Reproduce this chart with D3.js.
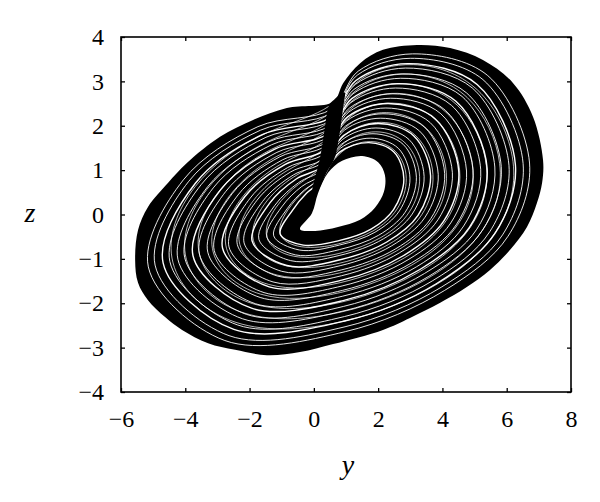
<!DOCTYPE html>
<html>
<head>
<meta charset="utf-8">
<script src="https://cdn.jsdelivr.net/npm/d3@7"></script>
<style>
body { margin: 0; background: #fff; }
text { font-family: "Liberation Serif", "DejaVu Serif", serif; }
</style>
</head>
<body>
<script>
// tick values
var yTicks = [-6, -4, -2, 0, 2, 4, 6, 8];
var zTicks = [-4, -3, -2, -1, 0, 1, 2, 3, 4];

// outline of the attractor, [y, z]
var outerEdge = [
  [0.60, 2.54], [0.91, 2.96], [1.44, 3.41], [2.15, 3.71], [3.21, 3.82], [4.24, 3.75],
  [5.26, 3.48], [6.20, 2.96], [6.82, 2.20], [7.13, 1.23], [7.10, 0.71], [6.94, 0.26],
  [6.63, -0.28], [6.10, -0.80], [5.48, -1.25], [4.77, -1.63], [3.93, -1.99], [2.99, -2.33],
  [2.15, -2.60], [0.60, -2.92], [-0.43, -3.10], [-1.46, -3.17], [-2.45, -3.05], [-3.29, -2.90],
  [-4.10, -2.60], [-4.63, -2.31], [-5.16, -1.93], [-5.47, -1.54], [-5.56, -1.03], [-5.47, -0.35],
  [-5.16, 0.17], [-4.54, 0.71], [-3.95, 1.16], [-2.92, 1.75], [-1.89, 2.13], [-0.84, 2.40]
];

// the empty hole in the middle
var holeEdge = [
  [-0.43, -0.33], [-0.06, 0.03], [0.13, 0.48], [0.44, 0.94], [0.88, 1.21], [1.50, 1.32],
  [2.00, 1.18], [2.21, 0.89], [2.18, 0.51], [1.90, 0.15], [1.44, -0.12], [0.75, -0.28],
  [0.04, -0.37]
];

// solid band where the orbits fold over
var foldBand = [
  [0.45, 2.42], [0.62, 2.58], [0.95, 2.75], [0.92, 2.45], [0.70, 1.40], [0.40, 0.95],
  [0.10, 0.50], [-0.05, 0.55], [0.20, 1.30], [0.35, 2.00]
];

// white gaps between orbit bundles, outermost first
var gapLoops = [
  [[0.56, 2.38], [1.38, 3.23], [3.07, 3.62], [5.41, 3.13], [6.71, 1.16], [6.04, -0.49], [4.07, -1.71], [0.98, -2.64], [-2.77, -2.84], [-5.15, -1.18], [-4.06, 0.78], [-1.74, 1.98]],
  [[0.54, 2.29], [1.35, 3.14], [3.00, 3.52], [5.26, 3.04], [6.51, 1.15], [5.87, -0.46], [3.96, -1.64], [0.97, -2.53], [-2.64, -2.73], [-4.94, -1.14], [-3.89, 0.75], [-1.66, 1.90]],
  [[0.52, 2.19], [1.31, 3.02], [2.92, 3.40], [5.08, 2.93], [6.27, 1.12], [5.64, -0.42], [3.81, -1.56], [0.96, -2.40], [-2.49, -2.59], [-4.69, -1.09], [-3.68, 0.71], [-1.57, 1.81]],
  [[0.50, 2.11], [1.29, 2.93], [2.85, 3.30], [4.93, 2.85], [6.07, 1.11], [5.47, -0.39], [3.70, -1.49], [0.95, -2.30], [-2.37, -2.49], [-4.48, -1.06], [-3.51, 0.67], [-1.49, 1.74]],
  [[0.48, 2.00], [1.25, 2.82], [2.77, 3.17], [4.75, 2.74], [5.83, 1.08], [5.24, -0.36], [3.56, -1.40], [0.94, -2.17], [-2.22, -2.35], [-4.23, -1.01], [-3.30, 0.63], [-1.40, 1.64]],
  [[0.46, 1.92], [1.22, 2.72], [2.70, 3.07], [4.61, 2.66], [5.63, 1.07], [5.07, -0.33], [3.44, -1.33], [0.93, -2.07], [-2.10, -2.25], [-4.02, -0.97], [-3.13, 0.60], [-1.32, 1.57]],
  [[0.44, 1.82], [1.18, 2.61], [2.61, 2.95], [4.42, 2.55], [5.39, 1.04], [4.84, -0.29], [3.30, -1.24], [0.91, -1.94], [-1.94, -2.11], [-3.76, -0.93], [-2.91, 0.55], [-1.23, 1.47]],
  [[0.42, 1.74], [1.15, 2.52], [2.54, 2.85], [4.28, 2.46], [5.19, 1.02], [4.66, -0.26], [3.19, -1.18], [0.90, -1.84], [-1.82, -2.01], [-3.56, -0.89], [-2.74, 0.52], [-1.15, 1.40]],
  [[0.39, 1.63], [1.11, 2.40], [2.46, 2.72], [4.09, 2.35], [4.95, 1.00], [4.44, -0.22], [3.04, -1.09], [0.89, -1.71], [-1.67, -1.87], [-3.30, -0.85], [-2.53, 0.48], [-1.06, 1.30]],
  [[0.37, 1.55], [1.09, 2.31], [2.39, 2.62], [3.95, 2.27], [4.75, 0.98], [4.26, -0.19], [2.93, -1.02], [0.88, -1.61], [-1.55, -1.76], [-3.10, -0.81], [-2.36, 0.44], [-0.98, 1.23]],
  [[0.35, 1.45], [1.05, 2.20], [2.30, 2.50], [3.77, 2.16], [4.51, 0.96], [4.04, -0.15], [2.78, -0.93], [0.87, -1.48], [-1.39, -1.63], [-2.84, -0.76], [-2.15, 0.40], [-0.89, 1.13]],
  [[0.33, 1.37], [1.02, 2.11], [2.24, 2.40], [3.62, 2.07], [4.31, 0.94], [3.86, -0.12], [2.67, -0.86], [0.86, -1.38], [-1.27, -1.52], [-2.64, -0.73], [-1.98, 0.37], [-0.81, 1.06]],
  [[0.31, 1.26], [0.98, 1.99], [2.15, 2.27], [3.44, 1.97], [4.07, 0.92], [3.64, -0.09], [2.53, -0.78], [0.85, -1.25], [-1.12, -1.39], [-2.38, -0.68], [-1.77, 0.32], [-0.72, 0.96]],
  [[0.29, 1.18], [0.95, 1.90], [2.08, 2.17], [3.29, 1.88], [3.87, 0.90], [3.46, -0.06], [2.41, -0.71], [0.84, -1.15], [-1.00, -1.28], [-2.17, -0.64], [-1.60, 0.29], [-0.64, 0.89]],
  [[0.27, 1.08], [0.92, 1.78], [2.00, 2.05], [3.11, 1.77], [3.63, 0.88], [3.24, -0.02], [2.27, -0.62], [0.82, -1.02], [-0.84, -1.15], [-1.92, -0.60], [-1.38, 0.25], [-0.55, 0.80]],
  [[0.25, 1.00], [0.89, 1.69], [1.93, 1.95], [2.96, 1.69], [3.43, 0.86], [3.06, 0.01], [2.16, -0.55], [0.81, -0.92], [-0.72, -1.04], [-1.71, -0.56], [-1.21, 0.21], [-0.47, 0.72]],
  [[0.22, 0.89], [0.85, 1.58], [1.84, 1.82], [2.78, 1.58], [3.19, 0.84], [2.84, 0.05], [2.01, -0.47], [0.80, -0.79], [-0.57, -0.91], [-1.46, -0.51], [-1.00, 0.17], [-0.38, 0.63]],
  [[0.21, 0.81], [0.82, 1.49], [1.77, 1.72], [2.63, 1.49], [2.99, 0.82], [2.66, 0.08], [1.90, -0.40], [0.79, -0.69], [-0.45, -0.80], [-1.25, -0.48], [-0.83, 0.13], [-0.30, 0.55]],
  [[0.19, 0.73], [0.79, 1.40], [1.71, 1.62], [2.49, 1.41], [2.80, 0.80], [2.48, 0.11], [1.78, -0.33], [0.78, -0.59], [-0.33, -0.69], [-1.05, -0.44], [-0.66, 0.10], [-0.23, 0.48]]
];

var W = 600, H = 502;
var mLeft = 121, mRight = 571, mTop = 37, mBottom = 392;

var svg = d3.select("body").append("svg").attr("width", W).attr("height", H);

var x = d3.scaleLinear().domain([-6, 8]).range([mLeft, mRight]);
var y = d3.scaleLinear().domain([-4, 4]).range([mBottom, mTop]);

var smooth = d3.line().x(d => x(d[0])).y(d => y(d[1])).curve(d3.curveCatmullRomClosed);
var soft = d3.line().x(d => x(d[0])).y(d => y(d[1])).curve(d3.curveBasisClosed);
var poly = d3.line().x(d => x(d[0])).y(d => y(d[1])).curve(d3.curveCardinalClosed);

// black body with the hole cut out
svg.append("path")
  .attr("d", smooth(outerEdge) + smooth(holeEdge))
  .attr("fill", "#000")
  .attr("fill-rule", "evenodd");

// white gaps; every other loop also drawn as a b-spline so some come out as thin pairs
var gaps = svg.append("g").attr("fill", "none").attr("stroke", "#fff");
gaps.selectAll("path.a").data(gapLoops).enter().append("path")
  .attr("class", "a")
  .attr("d", smooth)
  .attr("stroke-width", (d, i) => i % 4 == 2 ? 1.4 : 0.9);
gaps.selectAll("path.b").data(gapLoops.filter((d, i) => i % 2 == 1)).enter().append("path")
  .attr("class", "b")
  .attr("d", soft)
  .attr("stroke-width", 0.7);

svg.append("path")
  .attr("d", poly(foldBand))
  .attr("fill", "#000");

// axes with inward ticks on all four sides
var fmt = d => d < 0 ? "\u2212" + Math.abs(d) : "" + d;

function styleAxis(g) {
  g.select(".domain").remove();
  g.selectAll(".tick line").attr("stroke", "#000").attr("stroke-width", 1.3);
  g.selectAll("text").attr("fill", "#000").attr("font-size", 24)
    .attr("font-family", "\"Liberation Serif\", serif");
}

svg.append("g").attr("transform", "translate(0," + mBottom + ")")
  .call(d3.axisBottom(x).tickValues(yTicks).tickFormat(fmt).tickSizeInner(-4).tickSizeOuter(0).tickPadding(18))
  .call(styleAxis);
svg.append("g").attr("transform", "translate(0," + mTop + ")")
  .call(d3.axisTop(x).tickValues(yTicks).tickFormat("").tickSizeInner(-4).tickSizeOuter(0))
  .call(styleAxis);
svg.append("g").attr("transform", "translate(" + mLeft + ",0)")
  .call(d3.axisLeft(y).tickValues(zTicks).tickFormat(fmt).tickSizeInner(-4).tickSizeOuter(0).tickPadding(17))
  .call(styleAxis);
svg.append("g").attr("transform", "translate(" + mRight + ",0)")
  .call(d3.axisRight(y).tickValues(zTicks).tickFormat("").tickSizeInner(-4).tickSizeOuter(0))
  .call(styleAxis);

svg.append("rect")
  .attr("x", mLeft).attr("y", mTop)
  .attr("width", mRight - mLeft).attr("height", mBottom - mTop)
  .attr("fill", "none").attr("stroke", "#000").attr("stroke-width", 1.6);

// axis titles
svg.append("text").attr("x", 348).attr("y", 474)
  .attr("text-anchor", "middle").attr("font-size", 28).attr("font-style", "italic")
  .text("y");
svg.append("text").attr("x", 30).attr("y", 222)
  .attr("text-anchor", "middle").attr("font-size", 28).attr("font-style", "italic")
  .text("z");
</script>
</body>
</html>
